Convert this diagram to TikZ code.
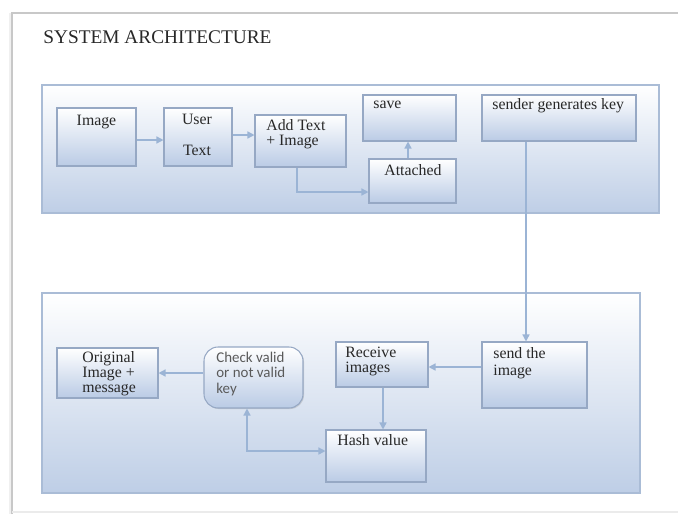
\documentclass[tikz,border=0pt]{standalone}
\usepackage{fontspec}
\setmainfont{Liberation Serif}
\newfontfamily\calfont{Carlito}
\usetikzlibrary{arrows.meta,shadows}

\definecolor{pageedge}{RGB}{200,200,200}
\definecolor{panelline}{RGB}{170,188,214}
\definecolor{panelbot}{RGB}{190,206,230}
\definecolor{boxline}{RGB}{150,168,196}
\definecolor{boxbot}{RGB}{186,203,229}
\definecolor{wire}{RGB}{155,180,213}
\definecolor{ink}{RGB}{40,40,40}
\definecolor{greyink}{RGB}{90,90,90}

\tikzset{
  panel/.style={draw=panelline, line width=0.7pt, top color=white, bottom color=panelbot},
  box/.style 2 args={draw=boxline, line width=0.6pt, top color=white, bottom color=boxbot,
    minimum width=#1*0.02cm, minimum height=#2*0.02cm, inner sep=0pt,
    drop shadow={shadow xshift=0.6pt, shadow yshift=-0.6pt, opacity=0.35, fill=black!40}},
  % multi-line labels sit on the baseline of their last line
  lbl/.style={anchor=base west, inner sep=0pt, font=\fontsize{9}{8.6}\selectfont, text=ink, align=left},
  clbl/.style={anchor=base, inner sep=0pt, font=\fontsize{9}{8.6}\selectfont, text=ink, align=center},
  wirearrow/.style={draw=wire, line width=0.8pt, -{Triangle[length=4pt,width=4pt]}},
  wireboth/.style={draw=wire, line width=0.8pt, {Triangle[length=4pt,width=4pt]}-{Triangle[length=4pt,width=4pt]}}
}

\begin{document}
\begin{tikzpicture}[x=0.02cm, y=-0.02cm]
  \useasboundingbox (0,0) rectangle (678,514);
  \fill[white] (0,0) rectangle (678,514);

  % sheet edge
  \fill[black!6] (9,13) rectangle (12,514);
  \draw[pageedge, line width=0.8pt] (12,514) -- (12,13) -- (678,13);
  \draw[black!8, line width=0.6pt] (12,512) -- (678,512);

  % heading
  \node[anchor=base west, inner sep=0pt, font=\fontsize{11}{13}\selectfont, text=ink] (title) at (43,43) {SYSTEM ARCHITECTURE};

  % sender side
  \node[panel, minimum width=617*0.02cm, minimum height=128*0.02cm, inner sep=0pt] (senderpanel) at (350.5,149) {};

  \node[box={79}{58}] (img) at (96.5,137) {};
  \node[clbl] (imgtxt) at (96.5,125) {Image};

  \node[box={68}{58}] (user) at (198,137) {};
  \node[clbl] (usertxt) at (197,155) {User\\[8.5pt]Text};

  \node[box={91}{52}] (addtxt) at (300.5,141) {};
  \node[lbl, font=\fontsize{9}{8}\selectfont] (addtxtlbl) at (266,145) {Add Text\\+ Image};

  \node[box={93}{46}] (save) at (409.5,118) {};
  \node[lbl] (savelbl) at (373,108) {save};

  \node[box={87}{44}] (attached) at (412.5,181) {};
  \node[lbl] (attachedlbl) at (384,175) {Attached};

  \node[box={154}{46}] (sender) at (559,118) {};
  \node[lbl] (senderlbl) at (492,109) {sender generates key};

  % receiver side
  \node[panel, minimum width=598*0.02cm, minimum height=200*0.02cm, inner sep=0pt] (receiverpanel) at (341,393) {};

  \node[box={101}{50}] (orig) at (107.5,373) {};
  \node[lbl, font=\fontsize{9}{8.5}\selectfont] (origlbl) at (82,392) {Original\\Image +\\message};

  \node[box={99}{61}, rounded corners=8pt] (check) at (253.5,377.5) {};
  \node[lbl, font=\calfont\fontsize{8.5}{8.8}\selectfont, text=greyink] (checklbl) at (216,393) {Check valid\\or not valid\\key};

  \node[box={92}{45}] (receive) at (382,364.5) {};
  \node[lbl, font=\fontsize{9}{8.5}\selectfont] (receivelbl) at (345,372) {Receive\\images};

  \node[box={105}{66}] (send) at (534.5,375) {};
  \node[lbl, font=\fontsize{9}{9.6}\selectfont] (sendlbl) at (493,375) {send the\\image};

  \node[box={100}{52}] (hash) at (376,456) {};
  \node[lbl] (hashlbl) at (337,445) {Hash value};

  % connectors
  \draw[wirearrow] (img.east |- 0,140) -- (user.west |- 0,140);
  \draw[wirearrow] (user.east |- 0,135) -- (addtxt.west |- 0,135);
  \draw[wirearrow] (addtxt.south -| 297,0) |- (attached.west |- 0,192);
  \draw[wirearrow] (attached.north -| 408,0) -- (save.south -| 408,0);
  \draw[wirearrow] (sender.south -| 526,0) -- (send.north -| 526,0);
  \draw[wirearrow] (send.west |- 0,367) -- (receive.east |- 0,367);
  \draw[wirearrow] (receive.south -| 383,0) -- (hash.north -| 383,0);
  \draw[wirearrow] (check.west |- 0,373) -- (orig.east |- 0,373);
  \draw[wireboth] (check.south -| 247,0) |- (hash.west |- 0,451);
\end{tikzpicture}
\end{document}
